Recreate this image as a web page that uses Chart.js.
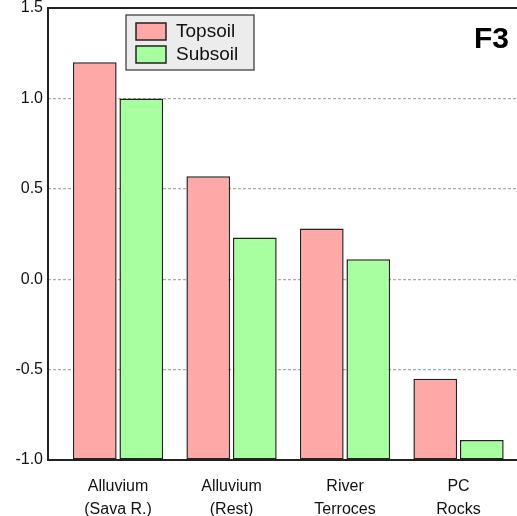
<!DOCTYPE html>
<html><head><meta charset="utf-8">
<script src="https://cdn.jsdelivr.net/npm/chart.js@4/dist/chart.umd.min.js"></script>
<style>html,body{margin:0;padding:0;background:#fff}#wrap{width:517px;height:516px}</style>
</head><body><div id="wrap"><canvas id="c" width="517" height="516"></canvas></div>
<script>
const categories = [["Alluvium","(Sava R.)"],["Alluvium","(Rest)"],["River","Terroces"],["PC","Rocks"]];
const topsoil = [1.2, 0.57, 0.28, -0.55];
const subsoil = [1.0, 0.23, 0.11, -0.89];
const yTicks = [1.5, 1.0, 0.5, 0.0, -0.5, -1.0];
const seriesNames = ["Topsoil","Subsoil"];
const panelLabel = "F3";

const FONT = "'Liberation Sans', Arial, sans-serif";
const colors = ["#ffa8a8","#a8ffa0"];

const framePlugin = {
  id:'frame',
  afterDraw(chart){
    const {ctx, chartArea:a} = chart;
    ctx.save();
    ctx.strokeStyle = '#222'; ctx.lineWidth = 2;
    ctx.beginPath();
    ctx.moveTo(a.right, a.top); ctx.lineTo(a.left, a.top); ctx.lineTo(a.left, a.bottom); ctx.lineTo(a.right, a.bottom);
    ctx.stroke();
    // legend
    const lx=126, ly=15, lw=128, lh=55;
    ctx.fillStyle='#ececec'; ctx.fillRect(lx,ly,lw,lh);
    ctx.strokeStyle='#333'; ctx.lineWidth=1.2; ctx.strokeRect(lx,ly,lw,lh);
    seriesNames.forEach((n,i)=>{
      const sy = ly+8+i*23;
      ctx.fillStyle=colors[i]; ctx.fillRect(lx+10,sy,30,17);
      ctx.strokeStyle='#222'; ctx.lineWidth=1.5; ctx.strokeRect(lx+10,sy,30,17);
      ctx.fillStyle='#111'; ctx.font='19px '+FONT; ctx.textBaseline='middle'; ctx.textAlign='left';
      ctx.fillText(n, lx+50, sy+9);
    });
    ctx.font='bold 30px '+FONT; ctx.fillStyle='#000'; ctx.textAlign='right'; ctx.textBaseline='middle';
    ctx.fillText(panelLabel, 509, 40);
    ctx.restore();
  }
};

new Chart(document.getElementById('c'), {
  type:'bar',
  data:{
    datasets:[topsoil, subsoil].map((arr,k)=>({
      label: seriesNames[k],
      data: arr.map((v,i)=>({x:i, y:v})),
      base: -1,
      backgroundColor: colors[k],
      borderColor:'#222',
      borderWidth:1.5,
      borderSkipped:false,
      categoryPercentage:0.82,
      barPercentage:0.94
    }))
  },
  options:{
    responsive:false, animation:false, devicePixelRatio:1,
    layout:{padding:{top:8,right:0,left:0,bottom:0}},
    plugins:{legend:{display:false}, tooltip:{enabled:false}},
    scales:{
      x:{
        type:'linear', min:-0.617, max:3.515, offset:false, bounds:'data',
        afterBuildTicks(s){ s.ticks=[0,1,2,3].map(v=>({value:v})); },
        afterFit(s){ s.height=56; },
        grid:{display:false, drawTicks:false, offset:false},
        border:{display:false},
        ticks:{callback:(v)=>categories[v], color:'#111', font:{family:FONT,size:16,lineHeight:1.45}, padding:15, maxRotation:0, autoSkip:false}
      },
      y:{
        min:-1, max:1.5,
        afterBuildTicks(s){ s.ticks=yTicks.map(v=>({value:v})); },
        afterFit(s){ s.width=48; },
        grid:{drawTicks:false, color:(c)=> (c.tick && (c.tick.value===1.5||c.tick.value===-1)) ? 'rgba(0,0,0,0)' : '#aaa', lineWidth:1.2},
        border:{display:false, dash:[3,2]},
        ticks:{callback:(v)=>v.toFixed(1), color:'#111', font:{family:FONT,size:16,lineHeight:0.05}, padding:5}
      }
    }
  },
  plugins:[framePlugin]
});
</script></body></html>
